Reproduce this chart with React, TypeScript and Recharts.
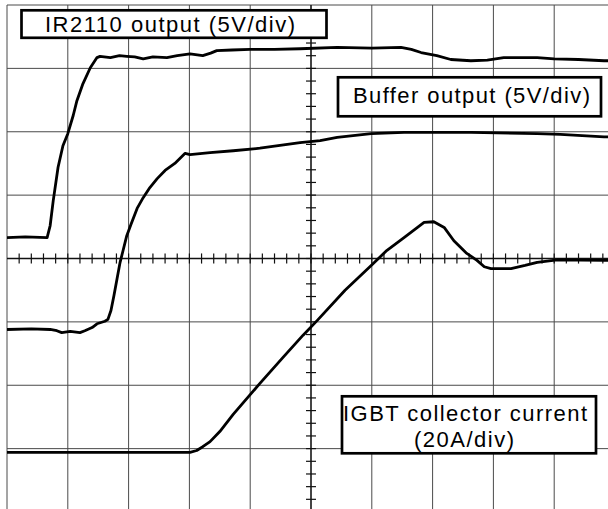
import React from "react";
import { LineChart, Line, XAxis, YAxis, CartesianGrid, ReferenceLine } from "recharts";

// Oscilloscope screen: 10 horizontal divisions, 8 vertical divisions (centre = 0)
const xTicks = [0, 1, 2, 3, 4, 5, 6, 7, 8, 9, 10];
const yTicks = [-4, -3, -2, -1, 0, 1, 2, 3, 4];
const MINOR_PER_DIV = 5;

// IR2110 output (5V/div) — [time div, volts div]
const ir2110X = [0, 0.3, 0.66, 0.71, 0.76, 0.84, 0.92, 1.0, 1.09, 1.15, 1.25, 1.37, 1.48, 1.53, 1.7, 1.85, 1.97, 2.1, 2.24, 2.4, 2.63, 2.8, 3.01, 3.22, 3.35, 3.45, 3.7, 4.0, 4.4, 4.82, 5.43, 6.0, 6.48, 6.65, 6.81, 7.07, 7.3, 7.63, 7.9, 8.17, 8.72, 9.0, 9.4, 9.82, 10];
const ir2110Y = [0.33, 0.34, 0.33, 0.52, 0.91, 1.44, 1.78, 1.97, 2.26, 2.49, 2.76, 3.01, 3.17, 3.19, 3.17, 3.2, 3.19, 3.18, 3.15, 3.18, 3.17, 3.2, 3.23, 3.2, 3.24, 3.28, 3.29, 3.3, 3.3, 3.31, 3.33, 3.32, 3.33, 3.3, 3.25, 3.2, 3.14, 3.12, 3.13, 3.17, 3.17, 3.15, 3.14, 3.12, 3.12];

// Buffer output (5V/div)
const bufferX = [0, 0.4, 0.71, 0.82, 0.9, 1.04, 1.2, 1.28, 1.4, 1.48, 1.61, 1.66, 1.71, 1.76, 1.81, 1.86, 1.91, 1.97, 2.04, 2.14, 2.24, 2.35, 2.47, 2.6, 2.76, 2.93, 3.01, 3.34, 3.72, 4.16, 4.82, 5.15, 5.43, 5.99, 6.53, 7.63, 8.72, 9.1, 9.82, 10];
const bufferY = [-1.12, -1.11, -1.12, -1.14, -1.17, -1.15, -1.17, -1.14, -1.09, -1.03, -0.99, -0.96, -0.82, -0.58, -0.32, -0.06, 0.13, 0.36, 0.54, 0.79, 0.96, 1.12, 1.26, 1.39, 1.5, 1.66, 1.64, 1.67, 1.7, 1.74, 1.83, 1.86, 1.91, 1.97, 1.99, 1.99, 1.97, 1.96, 1.92, 1.92];

// IGBT collector current (20A/div)
const igbtX = [0, 1.0, 2.0, 3.01, 3.12, 3.22, 3.34, 3.5, 3.72, 4.16, 4.54, 4.87, 5.1, 5.56, 5.99, 6.25, 6.53, 6.86, 7.02, 7.19, 7.35, 7.55, 7.73, 7.85, 7.96, 8.29, 8.52, 8.72, 9.05, 9.82, 10];
const igbtY = [-3.06, -3.06, -3.06, -3.06, -3.03, -2.97, -2.89, -2.73, -2.46, -1.97, -1.56, -1.21, -0.98, -0.5, -0.11, 0.13, 0.33, 0.57, 0.58, 0.49, 0.28, 0.09, -0.03, -0.13, -0.16, -0.16, -0.11, -0.06, -0.02, -0.03, -0.03];

const toPoints = (xs: number[], ys: number[]) => xs.map((x, i) => ({ x, y: ys[i] }));
const ir2110Data = toPoints(ir2110X, ir2110Y);
const bufferData = toPoints(bufferX, bufferY);
const igbtData = toPoints(igbtX, igbtY);

const minorX: number[] = [];
for (let i = 1; i < (xTicks.length - 1) * MINOR_PER_DIV; i++) minorX.push(i / MINOR_PER_DIV);
const minorY: number[] = [];
for (let j = -((yTicks.length - 1) / 2) * MINOR_PER_DIV + 1; j < ((yTicks.length - 1) / 2) * MINOR_PER_DIV; j++) minorY.push(j / MINOR_PER_DIV);

const TICK_HALF_Y = 0.08; // in vertical divisions
const TICK_HALF_X = 0.082; // in horizontal divisions

const FONT = "'Liberation Sans', Arial, Helvetica, sans-serif";

export default function App() {
  return (
    <div style={{ position: "absolute", left: 0, top: 0, width: 608, height: 509, overflow: "hidden", background: "#fff" }}>
      <LineChart width={615} height={512} margin={{ top: 5, left: 7, right: 0, bottom: 0 }}>
        <XAxis type="number" dataKey="x" domain={[0, 10]} ticks={xTicks} hide allowDataOverflow />
        <YAxis type="number" dataKey="y" domain={[-4, 4]} ticks={yTicks} hide allowDataOverflow />
        <CartesianGrid stroke="#4a4a4a" strokeWidth={1} />
        <ReferenceLine x={5} stroke="#111" strokeWidth={1.3} />
        <ReferenceLine y={0} stroke="#111" strokeWidth={1.3} />
        {minorX.map((v) => (
          <ReferenceLine
            key={"mx" + v}
            segment={[{ x: v, y: -TICK_HALF_Y }, { x: v, y: TICK_HALF_Y }]}
            stroke="#111"
            strokeWidth={1.2}
          />
        ))}
        {minorY.map((v) => (
          <ReferenceLine
            key={"my" + v}
            segment={[{ x: 5 - TICK_HALF_X, y: v }, { x: 5 + TICK_HALF_X, y: v }]}
            stroke="#111"
            strokeWidth={1.2}
          />
        ))}
        <Line data={ir2110Data} dataKey="y" type="linear" stroke="#000" strokeWidth={2.8} dot={false} isAnimationActive={false} strokeLinejoin="round" />
        <Line data={bufferData} dataKey="y" type="linear" stroke="#000" strokeWidth={2.8} dot={false} isAnimationActive={false} strokeLinejoin="round" />
        <Line data={igbtData} dataKey="y" type="linear" stroke="#000" strokeWidth={2.8} dot={false} isAnimationActive={false} strokeLinejoin="round" />
      </LineChart>
      <svg width={608} height={509} style={{ position: "absolute", left: 0, top: 0, pointerEvents: "none" }}>
        <g fontFamily={FONT} fontSize={22} fill="#000">
          <rect x={21.5} y={10.3} width={305} height={27.5} fill="#fff" stroke="#000" strokeWidth={2.7} />
          <text x={45} y={32} textLength={250} lengthAdjust="spacing">IR2110 output (5V/div)</text>
          <rect x={338} y={77.3} width={263} height={39} fill="#fff" stroke="#000" strokeWidth={2.7} />
          <text x={353} y={103} textLength={237} lengthAdjust="spacing">Buffer output (5V/div)</text>
          <rect x={342} y={396.3} width={254} height={57} fill="#fff" stroke="#000" strokeWidth={2.7} />
          <text x={343} y={421} textLength={244} lengthAdjust="spacing">IGBT collector current</text>
          <text x={414} y={447} textLength={100} lengthAdjust="spacing">(20A/div)</text>
        </g>
      </svg>
    </div>
  );
}
